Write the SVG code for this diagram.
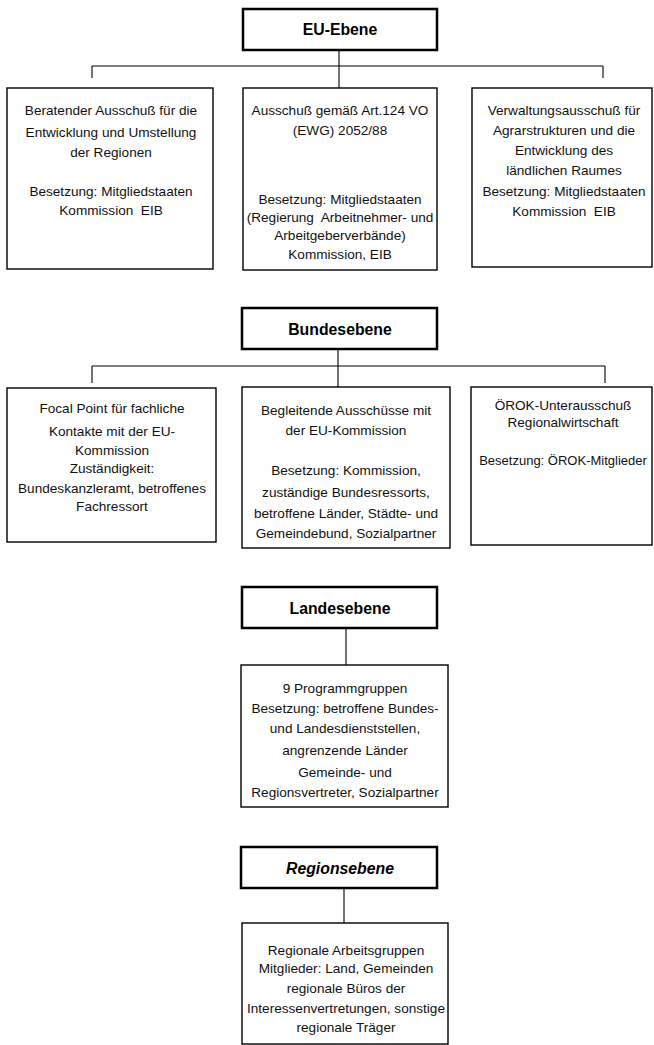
<svg xmlns="http://www.w3.org/2000/svg" width="654" height="1045" viewBox="0 0 654 1045">
<style>
.hdr{fill:#fff;stroke:#000;stroke-width:2.5}
.box{fill:#fff;stroke:#000;stroke-width:1.4}
.ht{font-family:"Liberation Sans",Arial,sans-serif;font-size:15.8px;font-weight:bold;text-anchor:middle;fill:#000}
.t{font-family:"Liberation Sans",Arial,sans-serif;font-size:13.6px;text-anchor:middle;fill:#111;white-space:pre}
.c{stroke:#000;stroke-width:1.1;fill:none}
</style>
<rect width="654" height="1045" fill="#fff"/>
<g id="connectors">
<path class="c" d="M339 50V88M92 66H603M92 66V78M603 66V78"/>
<path class="c" d="M338 349V387M92 366H605M92 366V383M605 366V383"/>
<path class="c" d="M346 628V665"/>
<path class="c" d="M344 888V923"/>
</g>
<g id="eu">
<rect class="hdr" x="243" y="9" width="194" height="41"/>
<text class="ht" x="340" y="35">EU-Ebene</text>
</g>
<g id="beratender">
<rect class="box" x="7" y="88" width="206" height="181"/>
<text class="t" x="111" y="115">Beratender Ausschuß für die</text>
<text class="t" x="111" y="137">Entwicklung und Umstellung</text>
<text class="t" x="111" y="157">der Regionen</text>
<text class="t" x="111" y="196">Besetzung: Mitgliedstaaten</text>
<text class="t" x="111" y="215" xml:space="preserve">Kommission  EIB</text>
</g>
<g id="ausschuss124">
<rect class="box" x="243" y="88" width="194" height="182"/>
<text class="t" x="340" y="115">Ausschuß gemäß Art.124 VO</text>
<text class="t" x="340" y="135">(EWG) 2052/88</text>
<text class="t" x="340" y="204">Besetzung: Mitgliedstaaten</text>
<text class="t" x="340" y="222" xml:space="preserve">(Regierung  Arbeitnehmer- und</text>
<text class="t" x="340" y="240">Arbeitgeberverbände)</text>
<text class="t" x="340" y="259">Kommission, EIB</text>
</g>
<g id="verwaltung">
<rect class="box" x="472" y="88" width="180" height="179"/>
<text class="t" x="564" y="115">Verwaltungsausschuß für</text>
<text class="t" x="564" y="135">Agrarstrukturen und die</text>
<text class="t" x="564" y="155">Entwicklung des</text>
<text class="t" x="564" y="175">ländlichen Raumes</text>
<text class="t" x="564" y="196">Besetzung: Mitgliedstaaten</text>
<text class="t" x="564" y="216" xml:space="preserve">Kommission  EIB</text>
</g>
<g id="bund">
<rect class="hdr" x="242" y="308" width="195" height="41"/>
<text class="ht" x="340" y="335">Bundesebene</text>
</g>
<g id="focal">
<rect class="box" x="7" y="388" width="209" height="154"/>
<text class="t" x="112" y="413">Focal Point für fachliche</text>
<text class="t" x="112" y="436">Kontakte mit der EU-</text>
<text class="t" x="112" y="455">Kommission</text>
<text class="t" x="112" y="473">Zuständigkeit:</text>
<text class="t" x="112" y="493">Bundeskanzleramt, betroffenes</text>
<text class="t" x="112" y="511">Fachressort</text>
</g>
<g id="begleitend">
<rect class="box" x="242" y="387" width="208" height="161"/>
<text class="t" x="346" y="415">Begleitende Ausschüsse mit</text>
<text class="t" x="346" y="435">der EU-Kommission</text>
<text class="t" x="346" y="475">Besetzung: Kommission,</text>
<text class="t" x="346" y="497">zuständige Bundesressorts,</text>
<text class="t" x="346" y="518">betroffene Länder, Städte- und</text>
<text class="t" x="346" y="538">Gemeindebund, Sozialpartner</text>
</g>
<g id="oerok">
<rect class="box" x="471" y="387" width="181" height="158"/>
<text class="t" x="563" y="410">ÖROK-Unterausschuß</text>
<text class="t" x="563" y="427">Regionalwirtschaft</text>
<text class="t" x="563" y="465" style="font-size:13px">Besetzung: ÖROK-Mitglieder</text>
</g>
<g id="land">
<rect class="hdr" x="242" y="587" width="195" height="41"/>
<text class="ht" x="340" y="614">Landesebene</text>
</g>
<g id="programm">
<rect class="box" x="241" y="665" width="207" height="142"/>
<text class="t" x="345" y="693">9 Programmgruppen</text>
<text class="t" x="345" y="713">Besetzung: betroffene Bundes-</text>
<text class="t" x="345" y="733">und Landesdienststellen,</text>
<text class="t" x="345" y="755">angrenzende Länder</text>
<text class="t" x="345" y="777">Gemeinde- und</text>
<text class="t" x="345" y="797">Regionsvertreter, Sozialpartner</text>
</g>
<g id="region">
<rect class="hdr" x="241" y="847" width="196" height="41"/>
<text class="ht" x="340" y="874" font-style="italic">Regionsebene</text>
</g>
<g id="arbeitsgruppen">
<rect class="box" x="242" y="923" width="206" height="121"/>
<text class="t" x="346" y="955">Regionale Arbeitsgruppen</text>
<text class="t" x="346" y="973">Mitglieder: Land, Gemeinden</text>
<text class="t" x="346" y="993">regionale Büros der</text>
<text class="t" x="346" y="1013">Interessenvertretungen, sonstige</text>
<text class="t" x="346" y="1032">regionale Träger</text>
</g>
</svg>
